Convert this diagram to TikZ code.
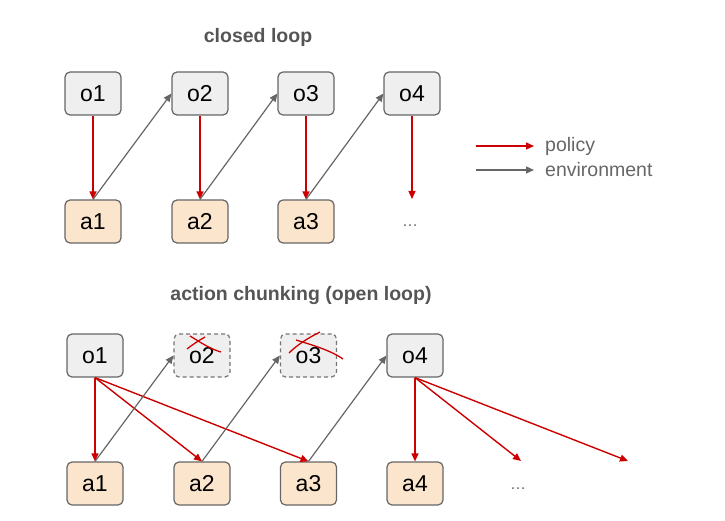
\documentclass[tikz,border=0pt]{standalone}
\usepackage{fontspec}
\setmainfont{Liberation Sans}
\usetikzlibrary{arrows.meta}
\definecolor{obsfill}{HTML}{EFEFEF}
\definecolor{actfill}{HTML}{FCE5CD}
\definecolor{boxline}{HTML}{666666}
\definecolor{polred}{HTML}{CC0000}
\definecolor{envgray}{HTML}{666666}
\definecolor{titlegray}{HTML}{555555}
\definecolor{legendgray}{HTML}{666666}
\tikzset{
  basebox/.style={draw=boxline, line width=1.2pt, rounded corners=5pt,
    minimum width=56pt, minimum height=43pt, inner sep=0pt,
    font=\fontsize{23}{23}\selectfont, text=black},
  obsbox/.style={basebox, fill=obsfill},
  actbox/.style={basebox, fill=actfill},
  droppedbox/.style={obsbox, draw=boxline!90, dash pattern=on 4pt off 3pt},
  polarrow/.style={draw=polred, line width=1.4pt, -{Triangle[length=8pt,width=7pt]}},
  envarrow/.style={draw=envgray, line width=1.2pt, -{Triangle[length=8pt,width=7pt]}},
  titletext/.style={font=\fontsize{19.5}{20}\selectfont\bfseries, text=titlegray},
  legendtext/.style={font=\fontsize{19.5}{20}\selectfont, text=legendgray, anchor=west, inner sep=0pt},
  dotstext/.style={font=\fontsize{16}{16}\selectfont, text=legendgray},
  crossline/.style={draw=polred, line width=1.3pt}
}
\begin{document}
\begin{tikzpicture}[x=1pt,y=-1pt]
\useasboundingbox (0,0) rectangle (725,521);
% ---------- closed loop ----------
\node[titletext] (t1) at (258,37) {closed loop};
\node[obsbox] (o1) at (93,93.5) {o1};
\node[obsbox] (o2) at (200,93.5) {o2};
\node[obsbox] (o3) at (306,93.5) {o3};
\node[obsbox] (o4) at (412,93.5) {o4};
\node[actbox] (a1) at (93,221.5) {a1};
\node[actbox] (a2) at (200,221.5) {a2};
\node[actbox] (a3) at (306,221.5) {a3};
\node[dotstext] (d1) at (410,226) {\dots};
\coordinate (e4) at (412,199);
\draw[polarrow] (o1.south) -- (a1.north);
\draw[polarrow] (o2.south) -- (a2.north);
\draw[polarrow] (o3.south) -- (a3.north);
\draw[polarrow] (o4.south) -- (e4);
\draw[envarrow] (a1.north) -- (o2.west);
\draw[envarrow] (a2.north) -- (o3.west);
\draw[envarrow] (a3.north) -- (o4.west);
% ---------- legend ----------
\coordinate (lp1) at (476,146);
\coordinate (lp2) at (534,146);
\coordinate (le1) at (476,170);
\coordinate (le2) at (534,170);
\draw[polarrow] (lp1) -- (lp2);
\draw[envarrow] (le1) -- (le2);
\node[legendtext] (lpol) at (545,146) {policy};
\node[legendtext] (lenv) at (545,170) {environment};
% ---------- action chunking ----------
\node[titletext] (t2) at (301,296) {action chunking (open loop)};
\node[obsbox] (p1) at (95,355.5) {o1};
\node[droppedbox] (p2) at (202,355.5) {o2};
\node[droppedbox] (p3) at (308.5,355.5) {o3};
\node[obsbox] (p4) at (415,355.5) {o4};
\node[actbox] (b1) at (95,483.5) {a1};
\node[actbox] (b2) at (202,483.5) {a2};
\node[actbox] (b3) at (308.5,483.5) {a3};
\node[actbox] (b4) at (415,483.5) {a4};
\node[dotstext] (d2) at (518,489) {\dots};
\coordinate (f1) at (521,461);
\coordinate (f2) at (628,461);
\draw[polarrow] (p1.south) -- (b1.north);
\draw[polarrow] (p1.south) -- (b2.north);
\draw[polarrow] (p1.south) -- (b3.north);
\draw[polarrow] (p4.south) -- (b4.north);
\draw[polarrow] (p4.south) -- (f1);
\draw[polarrow] (p4.south) -- (f2);
\draw[envarrow] (b1.north) -- (p2.west);
\draw[envarrow] (b2.north) -- (p3.west);
\draw[envarrow] (b3.north) -- (p4.west);
% crosses
\draw[crossline] (190,336) .. controls (200,342) and (210,349) .. (221,352);
\draw[crossline] (205,337) .. controls (198,341) and (192,345) .. (187,349);
\draw[crossline] (296,340) .. controls (312,345) and (330,350) .. (343,359);
\draw[crossline] (320,332) .. controls (308,338) and (297,345) .. (289,353);
\end{tikzpicture}
\end{document}
